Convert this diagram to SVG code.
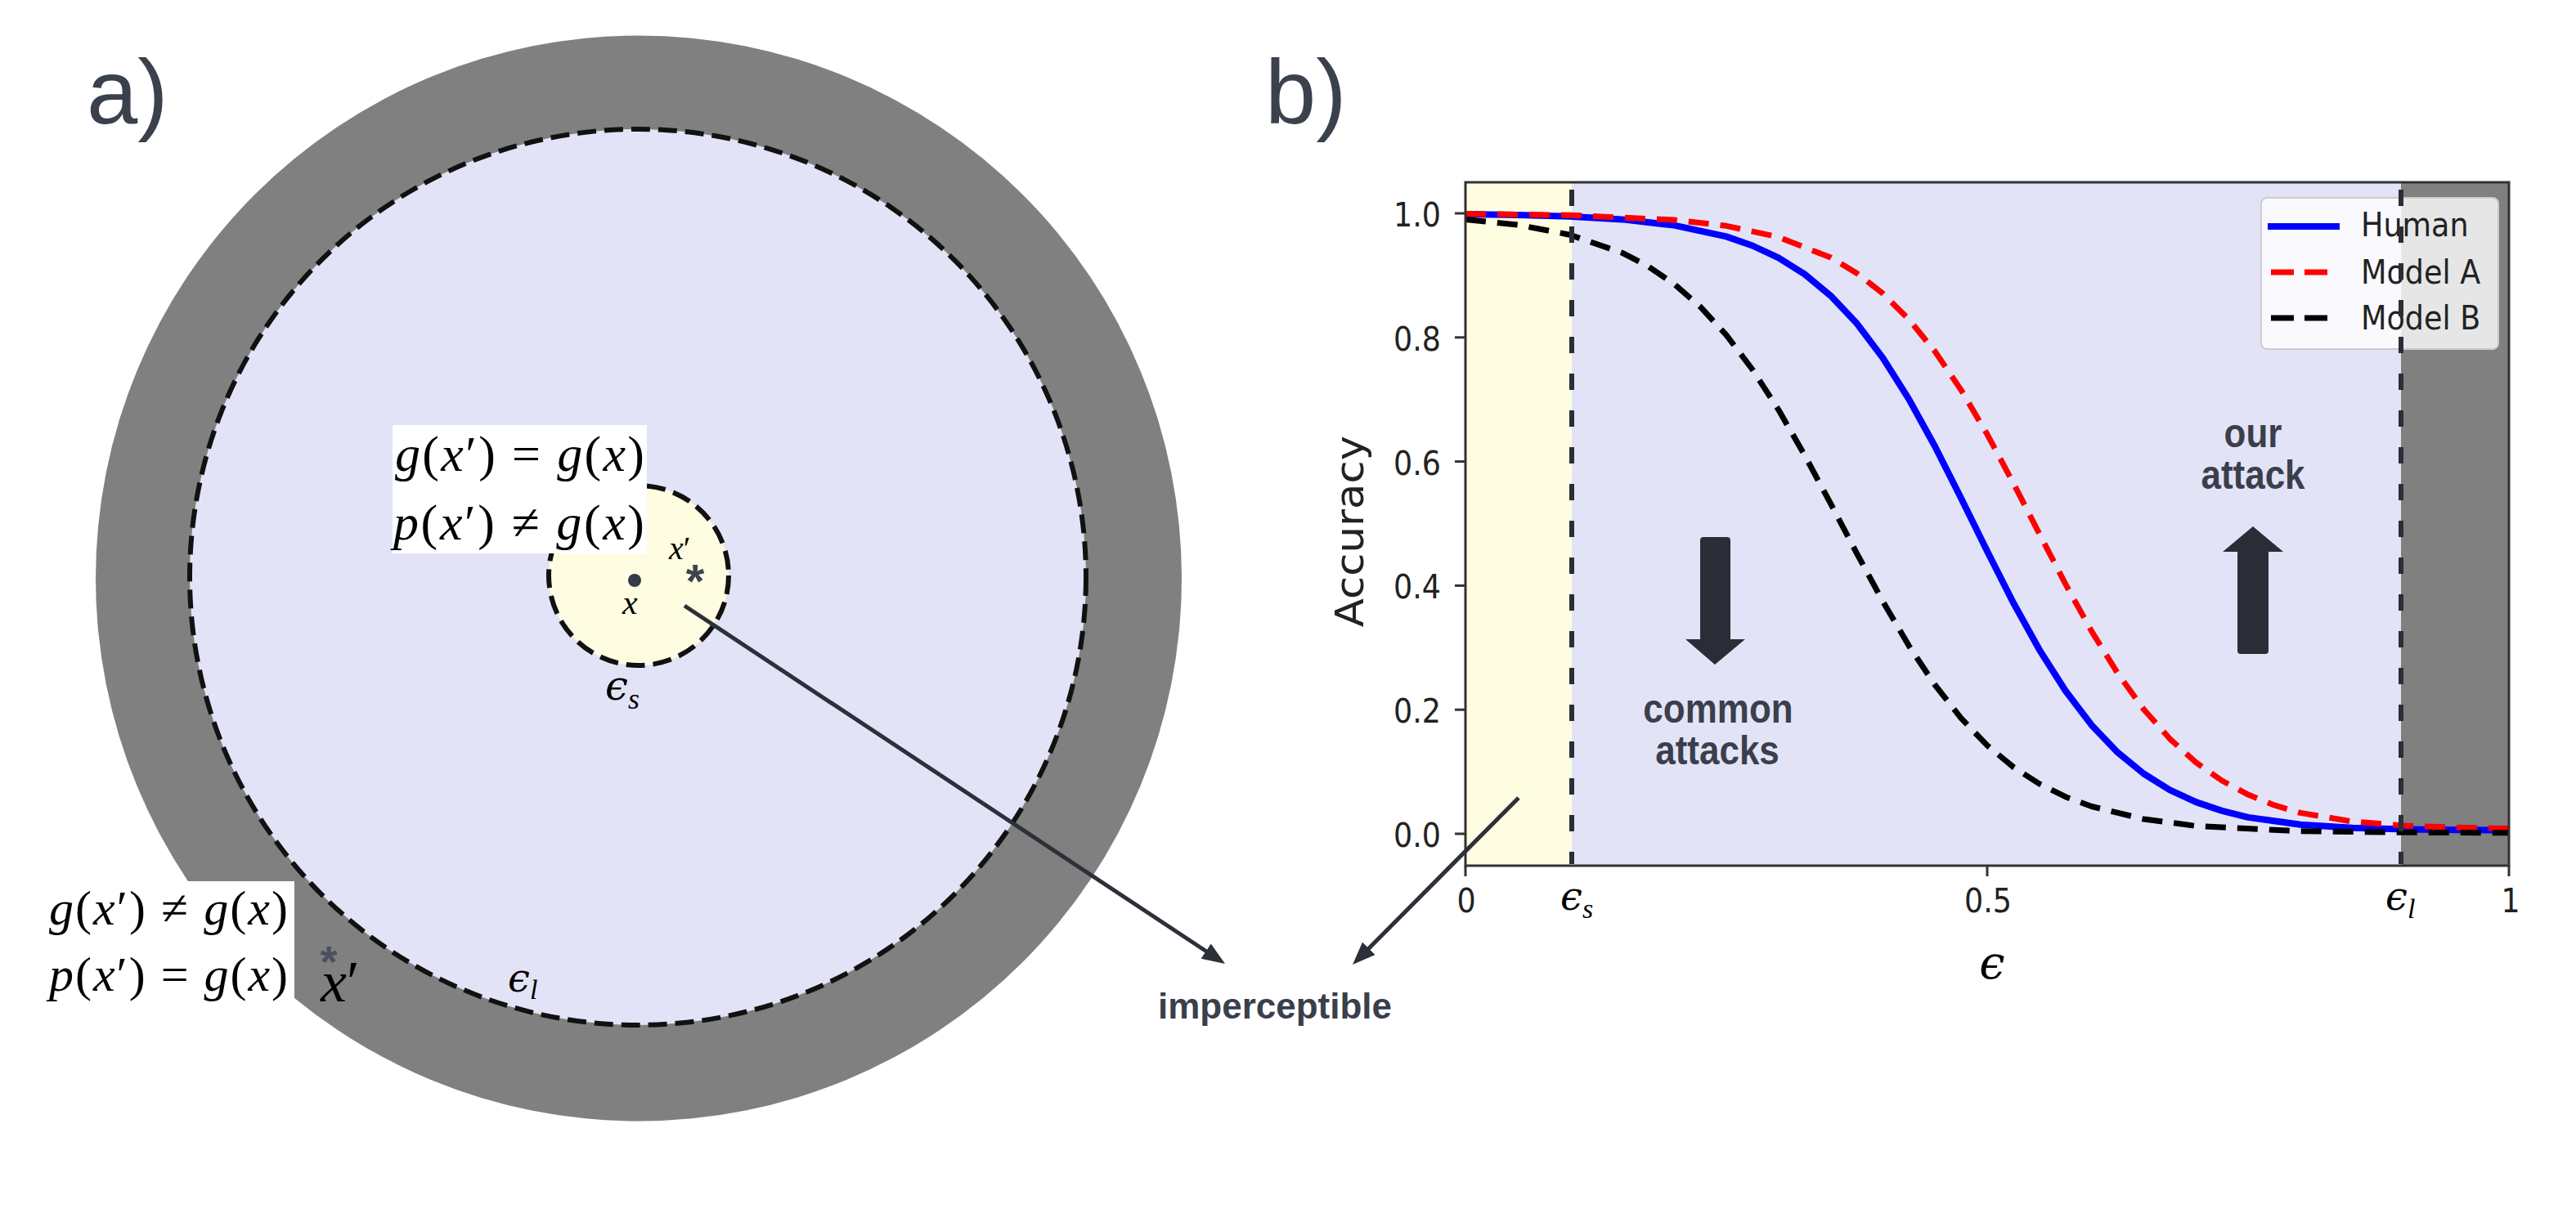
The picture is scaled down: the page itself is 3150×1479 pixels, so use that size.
<svg xmlns="http://www.w3.org/2000/svg" width="3150" height="1479" viewBox="0 0 3150 1479">
<style>
.lbl{font-family:"Liberation Sans",Arial,sans-serif;fill:#3b404d}
.m{font-family:"Liberation Serif","Times New Roman",serif;fill:#000}
.i{font-style:italic}
.eps{font-family:"DejaVu Serif",serif;font-style:italic}
.tick{font-family:"DejaVu Sans",sans-serif;font-size:36.5px;fill:#222}
.note{font-family:"Liberation Sans",Arial,sans-serif;font-weight:bold;font-size:44px;fill:#3a3f4b}
.dc{fill:none;stroke:#111;stroke-width:6;stroke-dasharray:23 10}
.conn{fill:none;stroke:#2b3039;stroke-width:5}
.vd{stroke:#2b2e36;stroke-width:6;stroke-dasharray:20 25}
.ast{font-family:"Liberation Sans",Arial,sans-serif;font-weight:bold;text-anchor:middle}
</style>
<defs>
<marker id="ah" markerWidth="30" markerHeight="24" refX="18" refY="12" orient="auto" markerUnits="userSpaceOnUse">
<path d="M0,1 L28,12 L0,23 z" fill="#2b3039"/>
</marker>
</defs>
<rect width="3150" height="1479" fill="#fff"/>

<!-- Panel labels -->
<text id="label-a" class="lbl" x="106" y="151" font-size="112">a)</text>
<text id="label-b" class="lbl" x="1547" y="151" font-size="112">b)</text>

<!-- Panel a -->
<g id="outer-region">
<circle cx="781" cy="707.5" r="664" fill="#808080"/>
</g>
<g id="eps-l-ball">
<circle cx="780" cy="706" r="548" fill="#e3e3f7"/>
<circle class="dc" cx="780" cy="706" r="548"/>
</g>
<g id="eps-s-ball">
<circle cx="781" cy="704" r="110" fill="#fefde1"/>
<circle class="dc" cx="781" cy="704" r="110" stroke-width="5" stroke-dasharray="20 9"/>
</g>
<g id="point-x">
<circle cx="776" cy="710" r="8" fill="#343a46"/>
<text class="m i" x="761" y="751" font-size="42">x</text>
</g>
<g id="point-xp-small">
<text class="m" x="818" y="684" font-size="40"><tspan class="i">x</tspan>′</text>
<text class="ast" x="850" y="731" font-size="58" fill="#3c4350">*</text>
</g>
<g id="eps-s-label">
<text class="m" x="740" y="856"><tspan class="eps" font-size="50">ϵ</tspan><tspan class="i" font-size="36" dy="11">s</tspan></text>
</g>
<g id="eps-l-label">
<text class="m" x="621" y="1213"><tspan class="eps" font-size="48">ϵ</tspan><tspan class="i" font-size="34" dy="9">l</tspan></text>
</g>
<g id="box-inner">
<rect x="480" y="520" width="311" height="157" fill="#fff"/>
<text class="m" x="483" y="576" font-size="62" textLength="305" lengthAdjust="spacing"><tspan class="i">g</tspan>(<tspan class="i">x</tspan>′) = <tspan class="i">g</tspan>(<tspan class="i">x</tspan>)</text>
<text class="m" x="481" y="660" font-size="62" textLength="307" lengthAdjust="spacing"><tspan class="i">p</tspan>(<tspan class="i">x</tspan>′) ≠ <tspan class="i">g</tspan>(<tspan class="i">x</tspan>)</text>
</g>
<g id="box-outer">
<rect x="50" y="1078" width="310" height="145" fill="#fff"/>
<text class="m" x="60" y="1131" font-size="60" textLength="292" lengthAdjust="spacing"><tspan class="i">g</tspan>(<tspan class="i">x</tspan>′) ≠ <tspan class="i">g</tspan>(<tspan class="i">x</tspan>)</text>
<text class="m" x="60" y="1212" font-size="60" textLength="292" lengthAdjust="spacing"><tspan class="i">p</tspan>(<tspan class="i">x</tspan>′) = <tspan class="i">g</tspan>(<tspan class="i">x</tspan>)</text>
</g>
<g id="point-xp-large">
<text class="ast" x="402" y="1195" font-size="54" fill="#4a5060">*</text>
<text class="m" x="392" y="1225" font-size="72"><tspan class="i">x</tspan>′</text>
</g>

<!-- Panel b: plot -->
<g id="plot-bg">
<rect x="1792" y="223" width="130" height="836" fill="#fefde1"/>
<rect x="1922" y="223" width="1014" height="836" fill="#e3e3f7"/>
<rect x="2936" y="223" width="132" height="836" fill="#808080"/>
</g>
<g id="curves" fill="none" stroke-linejoin="round">
<polyline id="human" stroke="#0000ff" stroke-width="8" points="1792,262 1855.8,262.9 1919.6,264.8 1983.4,268.4 2047.2,275.6 2111,289.4 2142.9,300.5 2174.8,315.4 2206.7,335.4 2238.6,361.8 2270.5,395.6 2302.4,437.8 2334.3,488.4 2366.2,546.3 2398.1,609.5 2430,674.2 2461.9,737.2 2493.8,794.8 2525.7,845 2557.6,886.9 2589.5,920.4 2621.4,946.5 2653.3,966.3 2685.2,981.1 2717.1,991.9 2749,999.9 2812.8,1008.7 2876.6,1012.8 2940.4,1014.4 3004.2,1015.2 3068,1015.6"/>
<polyline id="model-a" stroke="#ff0000" stroke-width="7" stroke-dasharray="25 14" points="1792,261.6 1919.6,263.2 2047.2,269 2111,276.3 2174.8,290 2238.6,315.1 2270.5,334.2 2302.4,359.1 2334.3,390.8 2366.2,430 2398.1,477.1 2430,531.3 2461.9,590.9 2493.8,653 2525.7,714.4 2557.6,772.1 2589.5,823.6 2621.4,867.7 2653.3,903.8 2685.2,932.7 2717.1,955 2749,972.1 2780.9,984.9 2812.8,994.4 2876.6,1005 2940.4,1010 3004.2,1012.3 3068,1013.6"/>
<polyline id="model-b" stroke="#000" stroke-width="7" stroke-dasharray="25 14" points="1792,268.4 1855.8,275 1919.6,287.2 1983.4,309.2 2015.3,325.7 2047.2,347.5 2079.1,375.2 2111,409.9 2142.9,452 2174.8,501.3 2206.7,556.7 2238.6,616.2 2270.5,676.8 2302.4,735.7 2334.3,790.1 2366.2,838 2398.1,878.6 2430,911.9 2461.9,938.3 2493.8,958.9 2525.7,974.7 2557.6,986.5 2621.4,1002 2685.2,1010.4 2812.8,1016.8 2940.4,1018.3 3068,1018.8"/>
</g>
<g id="legend">
<rect x="2765" y="242" width="290" height="185" rx="7" fill="#fff" fill-opacity="0.8" stroke="#cccccc" stroke-width="2"/>
<line x1="2773" y1="277" x2="2861" y2="277" stroke="#0000ff" stroke-width="8"/>
<line x1="2777" y1="333" x2="2846" y2="333" stroke="#ff0000" stroke-width="7" stroke-dasharray="28 13"/>
<line x1="2777" y1="389" x2="2846" y2="389" stroke="#000" stroke-width="7" stroke-dasharray="28 13"/>
<text class="tick" transform="translate(2887,289) scale(1,1.1)">Human</text>
<text class="tick" transform="translate(2887,347) scale(1,1.1)">Model A</text>
<text class="tick" transform="translate(2887,403) scale(1,1.1)">Model B</text>
</g>
<g id="bounds">
<line class="vd" x1="1922" y1="226" x2="1922" y2="1057" stroke-dashoffset="-6"/>
<line class="vd" x1="2936" y1="226" x2="2936" y2="1057" stroke-dashoffset="-6"/>
</g>
<g id="axes" stroke="#333" stroke-width="3">
<rect x="1792" y="223" width="1276" height="836" fill="none"/>
<line x1="1779" y1="261" x2="1792" y2="261"/>
<line x1="1779" y1="412.8" x2="1792" y2="412.8"/>
<line x1="1779" y1="564.6" x2="1792" y2="564.6"/>
<line x1="1779" y1="716.4" x2="1792" y2="716.4"/>
<line x1="1779" y1="868.2" x2="1792" y2="868.2"/>
<line x1="1779" y1="1020" x2="1792" y2="1020"/>
<line x1="1792" y1="1059" x2="1792" y2="1072"/>
<line x1="2430" y1="1059" x2="2430" y2="1072"/>
<line x1="3068" y1="1059" x2="3068" y2="1072"/>
</g>
<g id="tick-labels" text-anchor="end">
<text class="tick" transform="translate(1762,277) scale(1,1.1)">1.0</text>
<text class="tick" transform="translate(1762,429) scale(1,1.1)">0.8</text>
<text class="tick" transform="translate(1762,581) scale(1,1.1)">0.6</text>
<text class="tick" transform="translate(1762,732) scale(1,1.1)">0.4</text>
<text class="tick" transform="translate(1762,884) scale(1,1.1)">0.2</text>
<text class="tick" transform="translate(1762,1036) scale(1,1.1)">0.0</text>
</g>
<g id="x-tick-labels" text-anchor="middle">
<text class="tick" transform="translate(1793,1116) scale(1,1.1)">0</text>
<text class="tick" transform="translate(2431,1116) scale(1,1.1)">0.5</text>
<text class="tick" transform="translate(3070,1116) scale(1,1.1)">1</text>
</g>
<text class="m" x="1908" y="1113"><tspan class="eps" font-size="48">ϵ</tspan><tspan class="i" font-size="34" dy="10">s</tspan></text>
<text class="m" x="2917" y="1113"><tspan class="eps" font-size="48">ϵ</tspan><tspan class="i" font-size="34" dy="10">l</tspan></text>
<text class="eps" x="2436" y="1197" font-size="56" text-anchor="middle">ϵ</text>
<text class="tick" text-anchor="middle" transform="translate(1667,650) rotate(-90) scale(1.07,1)" style="font-size:48px">Accuracy</text>

<g id="common-attacks">
<path d="M2083,657 H2112 Q2116,657 2116,661 V782 H2134 L2097,813 L2061,782 H2079 V661 Q2079,657 2083,657 Z" fill="#2a2d35"/>
<text class="note" text-anchor="middle" transform="translate(2101,884) scale(1,1.15)">common</text>
<text class="note" text-anchor="middle" transform="translate(2100,935) scale(1,1.15)">attacks</text>
</g>
<g id="our-attack">
<path d="M2755,644 L2792,675 H2774 V796 Q2774,800 2770,800 H2740 Q2736,800 2736,796 V675 H2718 Z" fill="#2a2d35"/>
<text class="note" text-anchor="middle" transform="translate(2755,547) scale(1,1.15)">our</text>
<text class="note" text-anchor="middle" transform="translate(2755,598) scale(1,1.15)">attack</text>
</g>

<g id="imperceptible">
<text class="note" x="1559" y="1246" text-anchor="middle">imperceptible</text>
</g>

<g id="connectors">
<line class="conn" x1="837" y1="741" x2="1489.7" y2="1173.5" marker-end="url(#ah)"/>
<line class="conn" x1="1857" y1="976" x2="1661.1" y2="1172.9" marker-end="url(#ah)"/>
</g>
</svg>
